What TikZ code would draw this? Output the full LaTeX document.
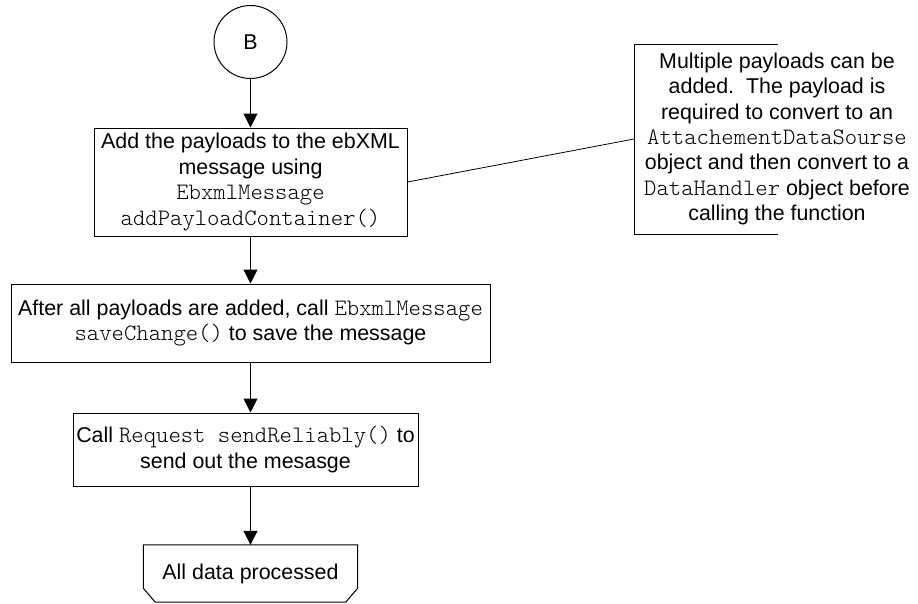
\documentclass[tikz,border=0pt]{standalone}
\usepackage{fontspec}
\setmainfont{Liberation Sans}
\setmonofont{Latin Modern Mono Light}[Scale=1.1]
\usetikzlibrary{arrows.meta}
\begin{document}
\begin{tikzpicture}[x=1pt,y=-1pt,
  every node/.style={font=\fontsize{21.4}{25.4}\selectfont, align=center, inner sep=0pt},
  procbox/.style={draw=black, line width=1pt, rectangle},
  flow/.style={draw=black, line width=1pt, -{Triangle[length=14pt,width=14pt]}},
  plain/.style={draw=black, line width=1pt}]
\useasboundingbox (0,0) rectangle (918,603);

\node[draw=black, line width=1pt, circle, minimum size=73pt] (B) at (250.5,42) {B};

\node[procbox, minimum width=313pt, minimum height=108pt] (box1) at (250.5,182)
  {Add the payloads to the ebXML\\message using\\\texttt{EbxmlMessage}\\\texttt{addPayloadContainer()}};

\node[procbox, minimum width=479pt, minimum height=78pt] (box2) at (250.5,323)
  {After all payloads are added, call \texttt{EbxmlMessage}\\\texttt{saveChange()} to save the message};

\node[procbox, minimum width=345pt, minimum height=73pt] (box3) at (245.5,449.5)
  {Call \texttt{Request sendReliably()} to\\send out the mesasge};

\node[minimum width=214pt, minimum height=57pt] (term) at (250.5,573.5) {All data processed};
\draw[plain] (term.north west) -- (term.north east) -- ([yshift=14pt]term.south east)
  -- ([xshift=-12pt]term.south east) -- ([xshift=12pt]term.south west)
  -- ([yshift=14pt]term.south west) -- cycle;

\node (note) at (777,139)
  {Multiple payloads can be\\added.\ \ The payload is\\required to convert to an\\\texttt{AttachementDataSourse}\\object and then convert to a\\\texttt{DataHandler} object before\\calling the function};
\coordinate (nt) at (634,44);
\coordinate (nb) at (634,234);
\coordinate (nl) at (634,139);
\draw[plain] ([xshift=144pt]nt) -- (nt) -- (nb) -- ([xshift=144pt]nb);
\draw[plain, line width=0.8pt] (box1.east) -- (nl);

\draw[flow] (B) -- (box1);
\draw[flow] (box1) -- (box2);
\draw[flow] (box2.south) -- (box2.south |- box3.north);
\draw[flow] (term.north |- box3.south) -- (term.north);
\end{tikzpicture}
\end{document}
